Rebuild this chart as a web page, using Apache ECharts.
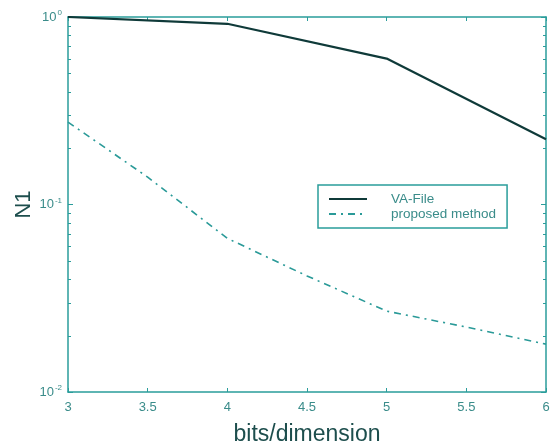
<!DOCTYPE html>
<html>
<head>
<meta charset="utf-8">
<script src="https://cdn.jsdelivr.net/npm/echarts@6/dist/echarts.min.js"></script>
<style>
html,body{margin:0;padding:0;background:#fff;}
#c{width:551px;height:448px;}
</style>
</head>
<body>
<div id="c"></div>
<script>
// Data
const bits = [3, 3.5, 4, 4.5, 5, 5.5, 6];
const vaFile = [[3, 1.0], [4, 0.92], [5, 0.60], [6, 0.223]];
const proposed = [0.275, 0.14, 0.066, 0.0416, 0.027, 0.0222, 0.018];
const xTicks = [3, 3.5, 4, 4.5, 5, 5.5, 6];
const yTicks = [0.01, 0.1, 1];
const seriesNames = ['VA-File', 'proposed method'];

const axisCol = '#2a9d9b';
const labelCol = '#3a8c8a';

const chart = echarts.init(document.getElementById('c'));

const xCommon = {
  type: 'value', min: 3, max: 6, interval: 0.5,
  axisLine: {show: true, onZero: false, lineStyle: {color: axisCol, width: 1.5}},
  axisTick: {show: true, inside: true, length: 4, lineStyle: {color: axisCol}},
  splitLine: {show: false}
};
const yCommon = {
  type: 'log', logBase: 10, min: 0.01, max: 1,
  axisLine: {show: true, onZero: false, lineStyle: {color: axisCol, width: 1.5}},
  axisTick: {show: true, inside: true, length: 5, lineStyle: {color: axisCol}},
  splitLine: {show: false}
};

chart.setOption({
  animation: false,
  backgroundColor: '#fff',
  grid: {left: 68, right: 5, top: 17, bottom: 56, containLabel: false, outerBoundsMode: 'none'},
  xAxis: [
    Object.assign({}, xCommon, {
      position: 'bottom',
      name: 'bits/dimension', nameLocation: 'middle', nameGap: 31,
      nameTextStyle: {fontFamily: 'Liberation Sans', fontSize: 23, color: '#1d4e4d'},
      axisLabel: {fontFamily: 'Liberation Sans', fontSize: 13, color: labelCol, margin: 9,
        formatter: v => (xTicks.indexOf(v) >= 0 ? String(v) : '')}
    }),
    Object.assign({}, xCommon, {position: 'top', axisLabel: {show: false}})
  ],
  yAxis: [
    Object.assign({}, yCommon, {
      position: 'left',
      name: 'N1', nameLocation: 'middle', nameGap: 33, nameRotate: 90, nameMoveOverlap: false,
      nameTextStyle: {fontFamily: 'Liberation Sans', fontSize: 22, color: '#1d4e4d'},
      axisLabel: {
        margin: 6,
        formatter: v => {
          if (!yTicks.some(t => Math.abs(t - v) < 1e-9)) return '';
          return '{b|10}{s|' + Math.round(Math.log10(v)) + '}';
        },
        rich: {
          b: {fontFamily: 'Liberation Sans', fontSize: 13, color: labelCol},
          s: {fontFamily: 'Liberation Sans', fontSize: 8, color: labelCol, verticalAlign: 'top', padding: [0, 0, 8, 1]}
        }
      }
    }),
    Object.assign({}, yCommon, {position: 'right', axisLabel: {show: false}})
  ],
  legend: {
    orient: 'vertical', left: 318, top: 185,
    backgroundColor: '#fff',
    borderColor: axisCol, borderWidth: 1.5,
    padding: [7, 11, 7, 10],
    itemWidth: 38, itemHeight: 8, itemGap: 1,
    itemStyle: {opacity: 0},
    textStyle: {fontFamily: 'Liberation Sans', fontSize: 13.5, lineHeight: 14, color: labelCol, padding: [0, 0, 0, 19]},
    data: seriesNames
  },
  series: [
    {
      name: seriesNames[0], type: 'line', symbol: 'none',
      xAxisIndex: 0, yAxisIndex: 0,
      data: vaFile,
      lineStyle: {color: '#0f3a39', width: 2.2},
      itemStyle: {color: '#0f3a39'}
    },
    {
      name: seriesNames[1], type: 'line', symbol: 'none', smooth: false,
      xAxisIndex: 0, yAxisIndex: 0,
      data: bits.map((b, i) => [b, proposed[i]]),
      lineStyle: {color: '#2a9a98', width: 1.6, type: [7, 5, 2, 5]},
      itemStyle: {color: '#2a9a98'}
    }
  ]
});

// Minor log ticks (2..9 x 10^k) placed through the library's y scale
const minor = [];
[0.01, 0.1].forEach(dec => {
  for (let m = 2; m <= 9; m++) minor.push(dec * m);
});
const g = [];
const x0 = chart.convertToPixel({xAxisIndex: 0}, 3);
const x1 = chart.convertToPixel({xAxisIndex: 0}, 6);
minor.forEach(v => {
  const y = Math.round(chart.convertToPixel({yAxisIndex: 0}, v)) + 0.5;
  g.push({type: 'line', shape: {x1: x0, y1: y, x2: x0 + 3, y2: y}, style: {stroke: axisCol, lineWidth: 1}, silent: true});
  g.push({type: 'line', shape: {x1: x1 - 3, y1: y, x2: x1, y2: y}, style: {stroke: axisCol, lineWidth: 1}, silent: true});
});
chart.setOption({graphic: g});
</script>
</body>
</html>
